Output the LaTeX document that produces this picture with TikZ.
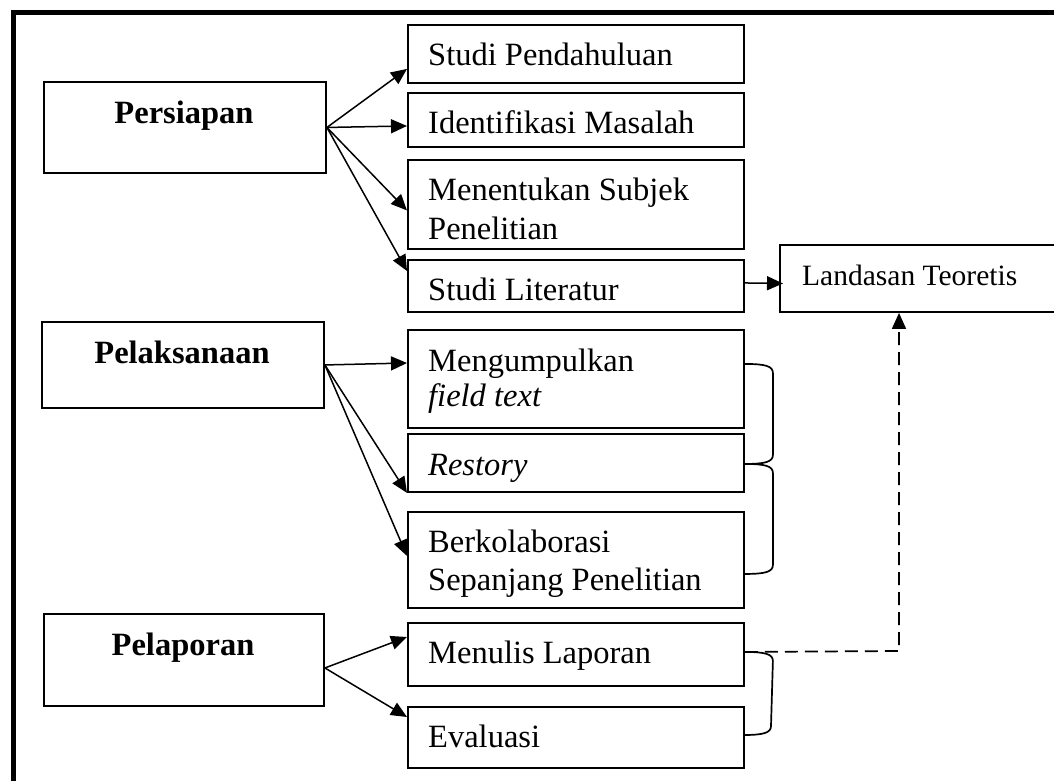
\documentclass[tikz,border=0pt]{standalone}
\usepackage{fontspec}
\setmainfont{Liberation Serif}
\usetikzlibrary{arrows.meta,calc}
\begin{document}
\begin{tikzpicture}[x=1pt,y=-1pt,
  box/.style={draw, line width=1.9pt, inner sep=0pt, anchor=north west},
  lbl/.style={anchor=base west, inner sep=0pt, font=\fontsize{32.5}{36}\selectfont},
  hdr/.style={anchor=base, inner sep=0pt, font=\fontsize{32.5}{36}\selectfont\bfseries},
  arr/.style={line width=1.5pt, -{Triangle[length=16pt,width=14pt]}},
  brc/.style={line width=1.7pt},
  dsh/.style={line width=1.7pt, dash pattern=on 13pt off 7pt, -{Triangle[length=16pt,width=14pt]}}]
\useasboundingbox (0,0) rectangle (1054,780);
\clip (0,0) rectangle (1054,780);
\fill[white] (0,0) rectangle (1054,780);
% frame
\draw[line width=5pt] (13.5,790) -- (13.5,12.5) -- (1070,12.5);
% left boxes
\node[box, minimum width=282pt, minimum height=91pt] (pers) at (43,81) {};
\node[box, minimum width=282pt, minimum height=86pt] (pelak) at (41,321) {};
\node[box, minimum width=280pt, minimum height=92pt] (pelap) at (43,613) {};
\node[hdr] (tpers) at (184,123) {Persiapan};
\node[hdr] (tpelak) at (182,363) {Pelaksanaan};
\node[hdr] (tpelap) at (183,655) {Pelaporan};
% right column boxes
\node[box, minimum width=336pt, minimum height=58pt] (sp) at (407,24) {};
\node[box, minimum width=336pt, minimum height=54pt] (im) at (407,92) {};
\node[box, minimum width=336pt, minimum height=89pt] (ms) at (407,159) {};
\node[box, minimum width=336pt, minimum height=52pt] (sl) at (407,259) {};
\node[box, minimum width=336pt, minimum height=98pt] (mf) at (407,329) {};
\node[box, minimum width=336pt, minimum height=58pt] (rs) at (407,433) {};
\node[box, minimum width=336pt, minimum height=96pt] (bk) at (407,511) {};
\node[box, minimum width=336pt, minimum height=63pt] (ml) at (407,622) {};
\node[box, minimum width=336pt, minimum height=61pt] (ev) at (407,706) {};
\node[box, minimum width=300pt, minimum height=67pt] (lt) at (779,244) {};
% texts
\node[lbl] (tsp) at (428,65) {Studi Pendahuluan};
\node[lbl] (tim) at (428,133) {Identifikasi Masalah};
\node[lbl] (tms1) at (428,200) {Menentukan Subjek};
\node[lbl] (tms2) at (428,239) {Penelitian};
\node[lbl] (tsl) at (428,300) {Studi Literatur};
\node[lbl] (tmf1) at (428,371) {Mengumpulkan};
\node[lbl] (tmf2) at (428,406) {\itshape field text};
\node[lbl] (trs) at (428,475) {\itshape Restory};
\node[lbl] (tbk1) at (428,552) {Berkolaborasi};
\node[lbl] (tbk2) at (428,590) {Sepanjang Penelitian};
\node[lbl] (tml) at (428,663) {Menulis Laporan};
\node[lbl] (tev) at (428,747) {Evaluasi};
\node[lbl, font=\fontsize{29.5}{33}\selectfont] (tlt) at (802,285) {Landasan Teoretis};
% arrows from Persiapan
\draw[arr] (pers.east) -- ($(sp.south west)+(0,-15)$);
\draw[arr] (pers.east) -- ($(im.west)+(0,6)$);
\draw[arr] (pers.east) -- ($(ms.west)+(0,6)$);
\draw[arr] (pers.east) -- ($(sl.north west)+(0,12)$);
% arrows from Pelaksanaan
\draw[arr] (pelak.east) -- ($(mf.north west)+(0,34)$);
\draw[arr] (pelak.east) -- (rs.south west);
\draw[arr] (pelak.east) -- ($(bk.west)+(0,-4)$);
% arrows from Pelaporan
\coordinate (po) at ($(pelap.east)+(0,8)$);
\draw[arr] (po) -- ($(ml.north west)+(0,15)$);
\draw[arr] (po) -- ($(ev.north west)+(0,11)$);
% Studi Literatur -> Landasan
\draw[arr] ($(sl.east)+(0,-3)$) -- ($(lt.west)+(4,5)$);
% dashed feedback
\coordinate (ds) at ($(ml.east)+(0,-2.5)$);
\coordinate (dc) at (899,651);
\draw[dsh] (ds) -- (dc) -- (dc |- lt.south);
% braces
\coordinate (b1s) at ($(mf.east)+(0,-15)$);
\coordinate (b1e) at ($(rs.east)+(0,1)$);
\coordinate (b2e) at ($(bk.east)+(0,14)$);
\coordinate (b3s) at (ds);
\coordinate (b3e) at ($(ev.north west)+(336,29)$);
\draw[brc] (b1s) .. controls ($(b1s)+(20,0)$) and ($(b1s)+(28,2)$) .. ($(b1s)+(28,9)$)
  -- ($(b1e)+(28,-9)$) .. controls ($(b1e)+(28,-2)$) and ($(b1e)+(20,0)$) .. (b1e);
\draw[brc] (b1e) .. controls ($(b1e)+(20,0)$) and ($(b1e)+(28,2)$) .. ($(b1e)+(28,9)$)
  -- ($(b2e)+(28,-9)$) .. controls ($(b2e)+(28,-2)$) and ($(b2e)+(20,0)$) .. (b2e);
\draw[brc] (b3s) .. controls ($(b3s)+(20,0)$) and ($(b3s)+(28,2)$) .. ($(b3s)+(28,9)$)
  -- ($(b3e)+(28,-9)$) .. controls ($(b3e)+(28,-2)$) and ($(b3e)+(20,0)$) .. (b3e);
\end{tikzpicture}
\end{document}
